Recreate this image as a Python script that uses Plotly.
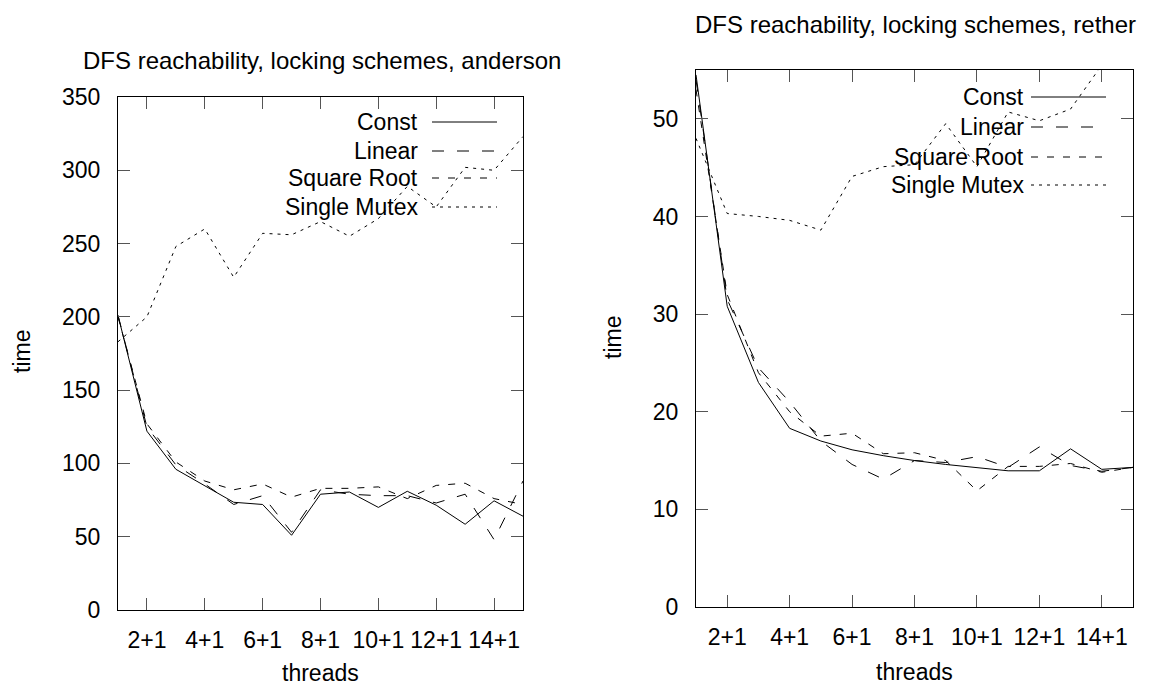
import plotly.graph_objects as go

# ---------------- data ----------------
threads = list(range(1, 16))
tick_vals = [2, 4, 6, 8, 10, 12, 14]
tick_text = ["2+1", "4+1", "6+1", "8+1", "10+1", "12+1", "14+1"]
series_names = ["Const", "Linear", "Square Root", "Single Mutex"]

anderson_const = [201, 122, 96, 85, 73.5, 72, 51, 79, 80.5, 70, 81, 71.5, 58.5, 74.5, 64]
anderson_linear = [201, 125, 99, 86, 72, 78, 53, 82, 79, 78, 78, 73, 79, 48, 88]
anderson_sqrt = [200, 127, 101, 88, 82, 86, 77, 83, 83, 84, 76, 85, 86.5, 76, 72]
anderson_mutex = [183, 200, 248, 260, 227, 257, 256, 265, 255, 267, 289, 275, 302, 300, 323]

rether_const = [54.5, 30.8, 23.0, 18.3, 17.0, 16.1, 15.5, 15.0, 14.6, 14.3, 13.95, 13.95, 16.2, 14.1, 14.3]
rether_linear = [54, 31.5, 24.5, 21, 17, 14.6, 13.1, 15.0, 14.8, 15.4, 14.3, 16.4, 14.5, 13.9, 14.3]
rether_sqrt = [53, 32, 24, 20, 17.5, 17.8, 15.7, 15.8, 15.0, 11.9, 14.4, 14.4, 14.7, 13.8, 14.3]
rether_mutex = [48, 40.3, 40.0, 39.6, 38.6, 44.1, 45.1, 45.3, 49.5, 45.1, 50.7, 49.8, 51, 55.5, 57]

# ---------------- style ----------------
W, H = 1149, 688
FONT = "Liberation Sans, Arial, sans-serif"
FS = 23
dashes = ["solid", "12px,13px", "7px,9px", "3px,5px"]

def px(x):
    return x / W

def py(y):
    return 1 - y / H

fig = go.Figure()

left = [anderson_const, anderson_linear, anderson_sqrt, anderson_mutex]
right = [rether_const, rether_linear, rether_sqrt, rether_mutex]

for name, vals, d in zip(series_names, left, dashes):
    fig.add_trace(go.Scatter(x=threads, y=vals, mode="lines", name=name,
                             line=dict(color="black", width=1, dash=d),
                             xaxis="x", yaxis="y", showlegend=False))
for name, vals, d in zip(series_names, right, dashes):
    fig.add_trace(go.Scatter(x=threads, y=vals, mode="lines", name=name,
                             line=dict(color="black", width=1, dash=d),
                             xaxis="x2", yaxis="y2", showlegend=False))

axis_common = dict(showline=True, linecolor="black", linewidth=1, mirror="ticks",
                   ticks="inside", ticklen=12, tickcolor="#555", tickwidth=1,
                   showgrid=False, zeroline=False, automargin=False,
                   tickfont=dict(family=FONT, size=FS, color="black"))

fig.update_layout(
    width=W, height=H,
    margin=dict(l=0, r=0, t=0, b=0, pad=0, autoexpand=False),
    paper_bgcolor="white", plot_bgcolor="white",
    font=dict(family=FONT, size=FS, color="black"),
    xaxis=dict(domain=[px(118), px(523)], range=[1, 15], tickvals=tick_vals,
               ticktext=tick_text, anchor="y", ticklabelstandoff=9, **axis_common),
    yaxis=dict(domain=[py(610), py(97)], range=[0, 350], dtick=50, anchor="x",
               ticklabelstandoff=12, **axis_common),
    xaxis2=dict(domain=[px(696), px(1133)], range=[1, 15], tickvals=tick_vals,
                ticktext=tick_text, anchor="y2", ticklabelstandoff=9, **axis_common),
    yaxis2=dict(domain=[py(607), py(70)], range=[0, 55], dtick=10, anchor="x2",
                ticklabelstandoff=12, **axis_common),
)

annotations = []
shapes = []

def text(x, y, s, xanchor="center", angle=0, size=FS):
    annotations.append(dict(x=px(x), y=py(y), xref="paper", yref="paper", text=s,
                            showarrow=False, xanchor=xanchor, yanchor="middle",
                            textangle=angle, font=dict(family=FONT, size=size, color="black")))

# titles
text(322, 60, "DFS reachability, locking schemes, anderson", size=24)
text(915, 25, "DFS reachability, locking schemes, rether", size=24)
# axis titles
text(22, 352, "time", angle=-90)
text(613, 338, "time", angle=-90)
text(320, 673, "threads")
text(914, 672, "threads")

# legends (gnuplot style: label right-aligned, sample to the right)
def legend(text_right, x0, x1, y_rows):
    for name, d, yy in zip(series_names, dashes, y_rows):
        text(text_right, yy, name, xanchor="right")
        shapes.append(dict(type="line", xref="paper", yref="paper",
                           x0=px(x0), x1=px(x1), y0=py(yy), y1=py(yy),
                           line=dict(color="black", width=1, dash=d)))

legend(420, 432, 497, [122, 151, 178, 207])
legend(1026, 1031, 1106, [97, 127, 157, 185])

fig.update_layout(annotations=annotations, shapes=shapes)
fig.write_html("out.html")
